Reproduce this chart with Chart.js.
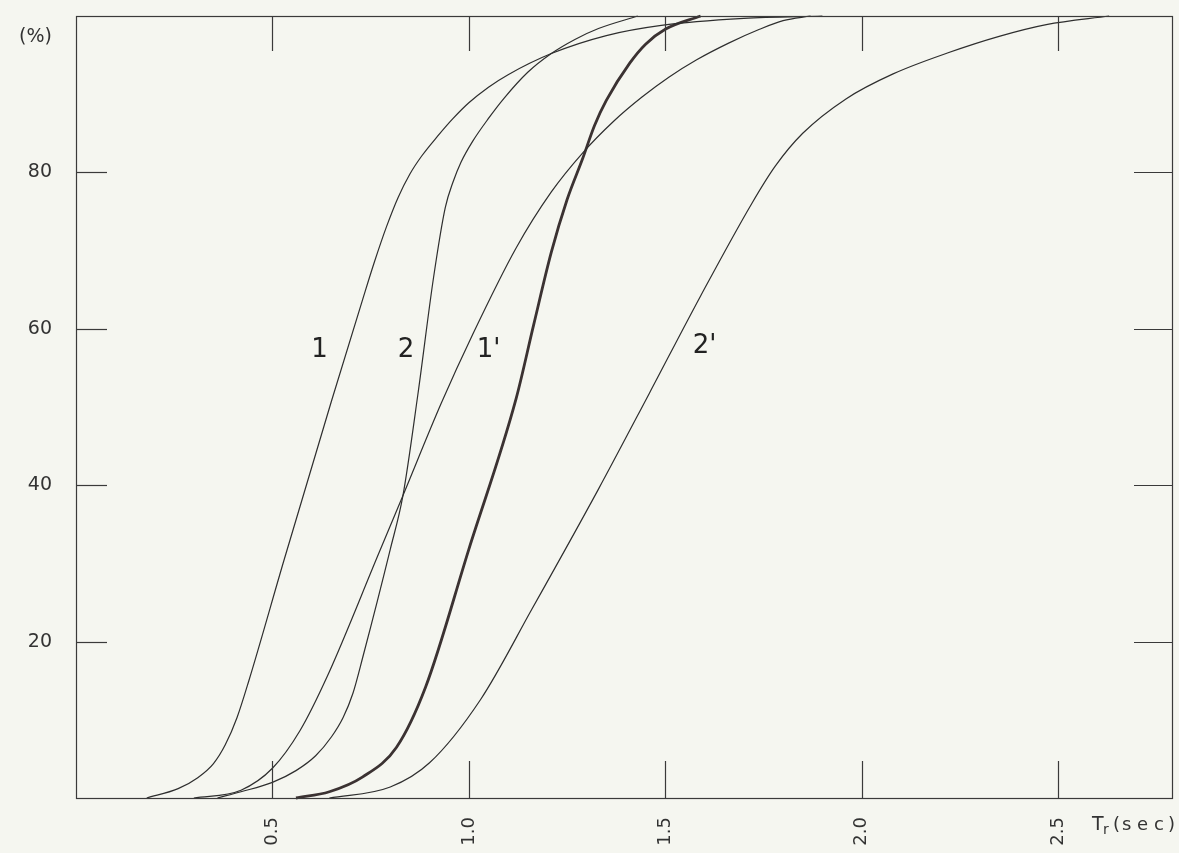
<!DOCTYPE html>
<html><head><meta charset="utf-8">
<script src="https://cdn.jsdelivr.net/npm/chart.js@4.4.1/dist/chart.umd.min.js"></script>
<style>
html,body{margin:0;padding:0;background:#f5f6f0;}
#wrap{width:1179px;height:853px;position:relative;}
canvas{display:block;}
</style></head><body><div id="wrap"><canvas id="c" width="1179" height="853"></canvas></div>
<script>
// ---- data (reaction time Tr in sec, cumulative %) ----
const xTicks = [0.5, 1.0, 1.5, 2.0, 2.5];
const yTicks = [20, 40, 60, 80];
const xTickLabels = ["0.5", "1.0", "1.5", "2.0", "2.5"];
const yTickLabels = ["20", "40", "60", "80"];

const seriesNames = ["1", "2", "1'", "1' (bold)", "2'"];

const t1 = [0.18, 0.26, 0.31, 0.35, 0.38, 0.41, 0.44, 0.53, 0.65, 0.73, 0.76, 0.79, 0.82, 0.85, 0.88, 0.92, 0.96, 1.00, 1.05, 1.10, 1.21, 1.35, 1.49, 1.70, 1.90];
const p1 = [0, 1.2, 2.6, 4.4, 6.8, 10.3, 15.0, 30.5, 50.7, 63.8, 68.6, 73.0, 76.8, 79.8, 82.1, 84.6, 86.9, 88.9, 90.9, 92.5, 95.2, 97.5, 98.8, 99.7, 100];

const t2 = [0.36, 0.42, 0.50, 0.56, 0.61, 0.65, 0.68, 0.705, 0.73, 0.80, 0.832, 0.87, 0.91, 0.94, 0.96, 0.98, 1.01, 1.05, 1.09, 1.15, 1.21, 1.27, 1.33, 1.43];
const p2 = [0, 0.8, 2.0, 3.5, 5.4, 7.8, 10.3, 13.4, 18.0, 31.8, 38.6, 51.5, 66.5, 75.5, 78.8, 81.3, 84.0, 86.9, 89.5, 92.8, 95.2, 97.0, 98.4, 100];

const t1p = [0.30, 0.42, 0.50, 0.57, 0.64, 0.77, 0.83, 0.93, 1.01, 1.12, 1.21, 1.29, 1.37, 1.44, 1.51, 1.58, 1.66, 1.74, 1.80, 1.87];
const p1p = [0, 1.0, 3.8, 8.6, 15.6, 31.2, 38.4, 50.5, 59.3, 70.3, 77.5, 82.5, 86.6, 89.6, 92.2, 94.4, 96.5, 98.3, 99.4, 100];

const tB = [0.56, 0.645, 0.73, 0.816, 0.89, 1.00, 1.12, 1.165, 1.21, 1.25, 1.29, 1.32, 1.35, 1.41, 1.45, 1.50, 1.59];
const pB = [0, 0.8, 2.7, 6.5, 14.2, 31.8, 51.0, 60.5, 69.8, 76.5, 81.8, 86.0, 89.2, 94.0, 96.4, 98.3, 100];

const t2p = [0.645, 0.80, 0.90, 1.03, 1.16, 1.33, 1.46, 1.59, 1.72, 1.78, 1.85, 1.96, 2.08, 2.22, 2.35, 2.47, 2.63];
const p2p = [0, 1.4, 4.5, 12.6, 24.1, 39.5, 51.8, 64.2, 76.0, 80.8, 85.0, 89.4, 92.6, 95.3, 97.4, 98.9, 100];

// curve labels: text and anchor in data units
const curveLabels = ["1", "2", "1'", "2'"];
const curveLabelX = [0.62, 0.84, 1.05, 1.60];
const curveLabelY = [57.3, 57.3, 57.3, 57.8];

const pts = (t, p) => t.map((v, i) => ({x: v, y: p[i]}));

const INK = '#2e2e2e';
const thin = (name, t, p) => ({label: name, data: pts(t, p), borderColor: INK, borderWidth: 1.2,
  pointRadius: 0, fill: false, cubicInterpolationMode: 'monotone', clip: 4});

const paperPlugin = {
  id: 'paper',
  beforeDraw(chart) {
    const ctx = chart.ctx;
    ctx.save();
    ctx.fillStyle = '#f5f6f0';
    ctx.fillRect(0, 0, chart.width, chart.height);
    ctx.restore();
  },
  afterDraw(chart) {
    const ctx = chart.ctx;
    const {left, right, top, bottom} = chart.chartArea;
    const xs = chart.scales.x, ys = chart.scales.y;
    ctx.save();
    ctx.strokeStyle = '#3a3a3a';
    ctx.lineWidth = 1.2;
    ctx.strokeRect(left + 0.5, top + 0.5, right - left, bottom - top);
    const seg = (a, b, c, d) => { ctx.beginPath(); ctx.moveTo(a, b); ctx.lineTo(c, d); ctx.stroke(); };
    xTicks.forEach(v => {
      const px = Math.round(xs.getPixelForValue(v)) + 0.5;
      seg(px, bottom, px, bottom - 37);
      seg(px, top, px, top + 35);
    });
    yTicks.forEach(v => {
      const py = Math.round(ys.getPixelForValue(v)) + 0.5;
      seg(left, py, left + 31, py);
      seg(right, py, right - 38, py);
    });
    // curve labels
    ctx.fillStyle = '#222';
    ctx.font = '26px "DejaVu Sans"';
    ctx.textAlign = 'center';
    ctx.textBaseline = 'middle';
    curveLabels.forEach((s, i) => {
      ctx.fillText(s, xs.getPixelForValue(curveLabelX[i]), ys.getPixelForValue(curveLabelY[i]));
    });
    // axis titles
    ctx.fillStyle = '#333';
    ctx.font = '19px "DejaVu Sans"';
    ctx.textAlign = 'right';
    ctx.textBaseline = 'middle';
    ctx.fillText('(%)', left - 24, top + 21);
    ctx.textAlign = 'left';
    ctx.textBaseline = 'alphabetic';
    const by = bottom + 32;
    ctx.font = '19px "DejaVu Sans"';
    ctx.fillText('T', right - 80, by);
    ctx.font = '14px "DejaVu Sans"';
    ctx.fillText('r', right - 69, by + 4);
    ctx.font = '18px "DejaVu Sans"';
    ctx.fillText('(', right - 59, by);
    ctx.fillText('s e c', right - 50, by);
    ctx.fillText(')', right - 4, by);
    ctx.restore();
  }
};

new Chart(document.getElementById('c'), {
  type: 'line',
  data: {
    datasets: [
      thin(seriesNames[0], t1, p1),
      thin(seriesNames[1], t2, p2),
      thin(seriesNames[2], t1p, p1p),
      Object.assign(thin(seriesNames[3], tB, pB), {borderWidth: 2.8, borderColor: '#3b3232'}),
      thin(seriesNames[4], t2p, p2p)
    ]
  },
  options: {
    responsive: false,
    animation: false,
    devicePixelRatio: 1,
    layout: {padding: {top: 16, right: 7, left: 0, bottom: 0}},
    plugins: {legend: {display: false}, tooltip: {enabled: false}},
    scales: {
      x: {
        type: 'linear', min: 0, max: 2.79,
        grid: {display: false, drawTicks: false},
        border: {display: false},
        afterBuildTicks: s => { s.ticks = xTicks.map(v => ({value: v})); },
        afterFit: s => { s.height = 55; s.paddingLeft = 0; s.paddingRight = 0; },
        ticks: {
          autoSkip: false, minRotation: 90, maxRotation: 90, padding: 19,
          color: '#333', font: {family: 'DejaVu Sans', size: 18},
          callback: (v) => { const i = xTicks.indexOf(v); return i >= 0 ? xTickLabels[i] : ''; }
        }
      },
      y: {
        type: 'linear', min: 0, max: 100,
        grid: {display: false, drawTicks: false},
        border: {display: false},
        afterBuildTicks: s => { s.ticks = yTicks.map(v => ({value: v})); },
        afterFit: s => { s.width = 76; s.paddingTop = 0; s.paddingBottom = 0; },
        ticks: {
          padding: 24, color: '#333', font: {family: 'DejaVu Sans', size: 19},
          callback: (v) => { const i = yTicks.indexOf(v); return i >= 0 ? yTickLabels[i] : ''; }
        }
      }
    }
  },
  plugins: [paperPlugin]
});
</script></body></html>
